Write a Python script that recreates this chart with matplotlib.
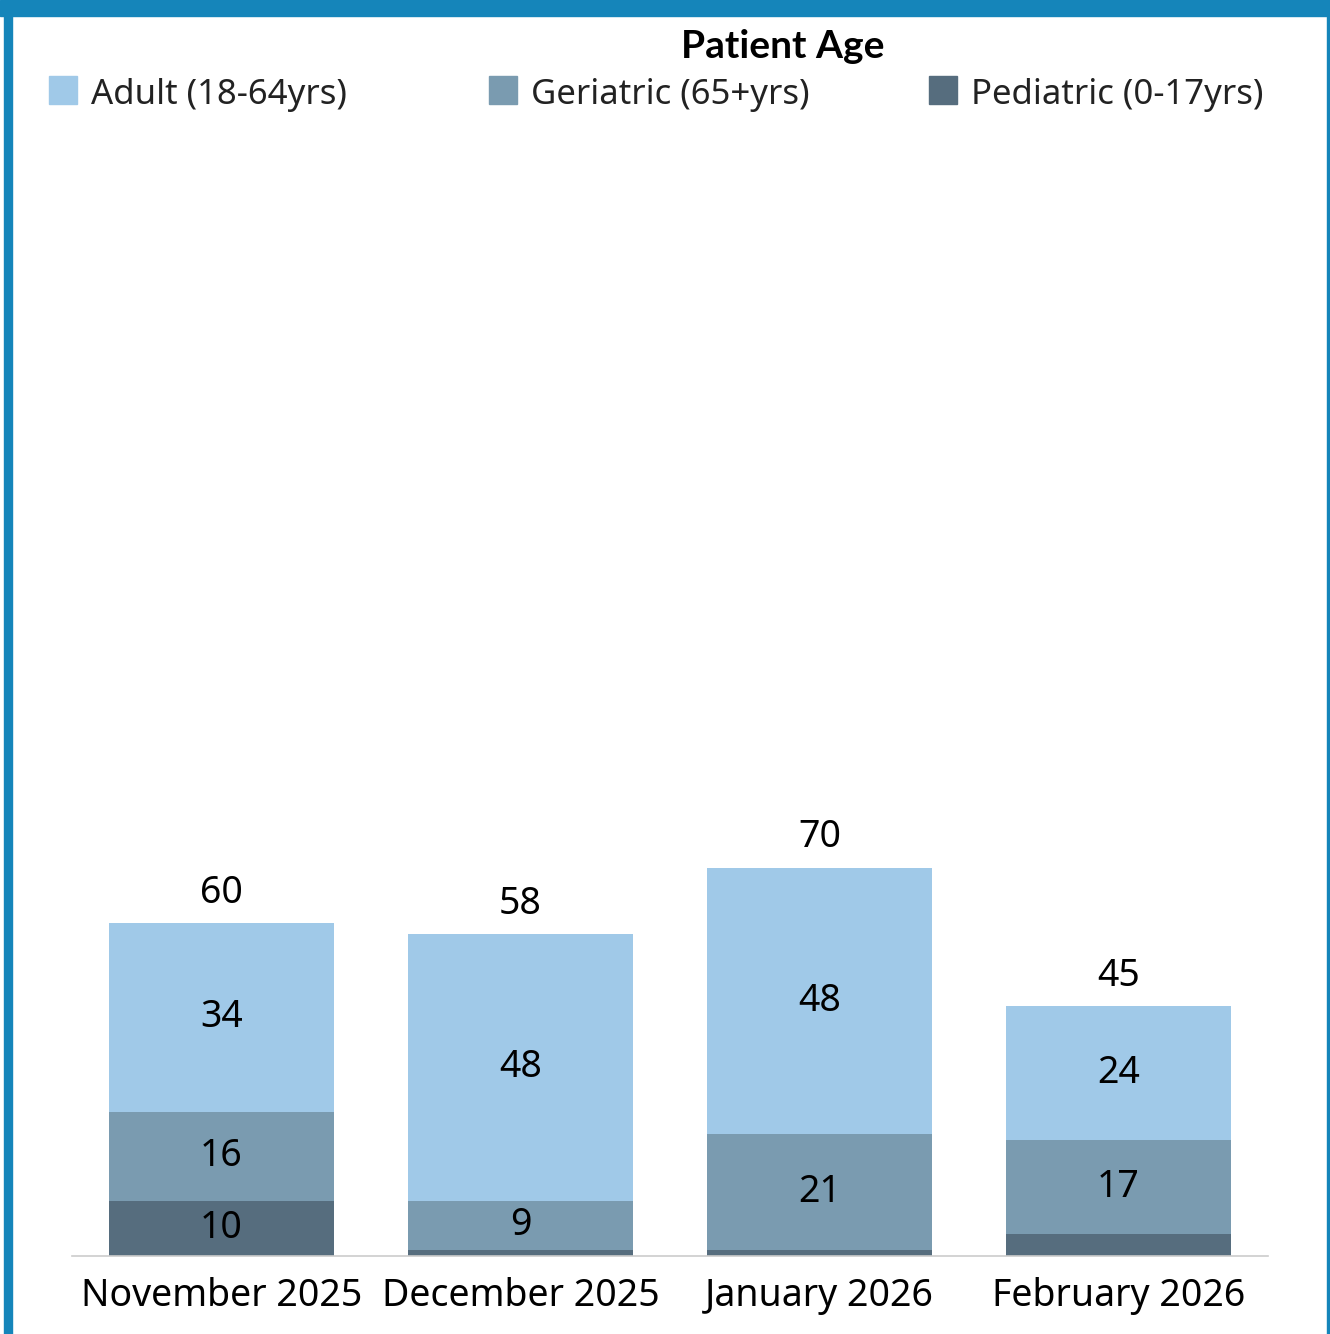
import matplotlib
matplotlib.use("Agg")
import matplotlib.pyplot as plt
from matplotlib.patches import Rectangle
import numpy as np

plt.rcParams['font.family'] = ['Noto Sans', 'DejaVu Sans']

# data
months = ["November 2025", "December 2025", "January 2026", "February 2026"]
pediatric = [10, 1, 1, 4]
geriatric = [16, 9, 21, 17]
adult = [34, 48, 48, 24]

series_names = ["Adult (18-64yrs)", "Geriatric (65+yrs)", "Pediatric (0-17yrs)"]
colors = {"Adult (18-64yrs)": "#a0c9e8",
          "Geriatric (65+yrs)": "#7a9bb0",
          "Pediatric (0-17yrs)": "#566d7e"}

W, H = 1330, 1334
fig = plt.figure(figsize=(W / 100, H / 100), dpi=100)

# axes placed by pixel coords
left, right, bottom, top = 72, 1268, 1256, 130
ax = fig.add_axes([left / W, (H - bottom) / H, (right - left) / W, (bottom - top) / H])

x = np.arange(len(months))
width = 0.75
stack = [("Pediatric (0-17yrs)", pediatric),
         ("Geriatric (65+yrs)", geriatric),
         ("Adult (18-64yrs)", adult)]
base = np.zeros(len(months))
for name, vals in stack:
    vals = np.array(vals)
    ax.bar(x, vals, width, bottom=base, color=colors[name], linewidth=0)
    for i, v in enumerate(vals):
        if v >= 5:
            ax.text(x[i], base[i] + v / 2, str(v), ha="center", va="center",
                    fontsize=27, color="black")
    base = base + vals

for i, t in enumerate(base):
    ax.annotate(str(int(t)), (x[i], t), xytext=(0, 22), textcoords="offset points",
                ha="center", va="center", fontsize=27, color="black")

ax.set_xlim(-0.5, len(months) - 0.5)
ax.set_ylim(0, 203)
ax.set_xticks(x)
ax.set_xticklabels(months, fontsize=27)
ax.tick_params(axis="x", length=0, pad=15)
ax.set_yticks([])
for s in ["top", "left", "right"]:
    ax.spines[s].set_visible(False)
ax.spines["bottom"].set_color("#cccccc")
ax.spines["bottom"].set_linewidth(1.2)

# legend drawn by hand to match layout
fig.text(783 / W, 1 - 47 / H, "Patient Age", ha="center", va="center",
         fontsize=28, fontweight="bold", family=["Lato", "DejaVu Sans"])
for k, name in enumerate(series_names):
    x0 = 49 + k * 440
    fig.patches.append(Rectangle((x0 / W, 1 - 104 / H), 28 / W, 28 / H,
                                 transform=fig.transFigure, color=colors[name]))
    fig.text((x0 + 42) / W, 1 - 95 / H, name, ha="left", va="center",
             fontsize=25, color="#222222")

# blue frame
blue = "#1585ba"
fig.patches.append(Rectangle((0, 1 - 16 / H), 1, 16 / H, transform=fig.transFigure, color=blue))
fig.patches.append(Rectangle((4 / W, 0), 8 / W, 1, transform=fig.transFigure, color=blue))
fig.patches.append(Rectangle((1327 / W, 0), 2 / W, 1, transform=fig.transFigure, color=blue))

fig.savefig("out.png", dpi=100)
